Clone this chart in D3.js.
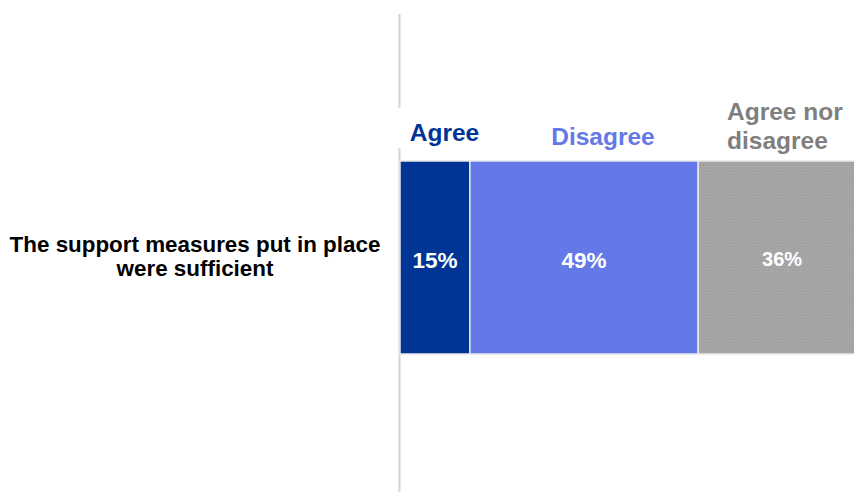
<!DOCTYPE html>
<html>
<head>
<meta charset="utf-8">
<script src="https://cdn.jsdelivr.net/npm/d3@7/dist/d3.min.js"></script>
<style>
  html, body { margin: 0; padding: 0; background: #ffffff; }
  svg { display: block; font-family: "Liberation Sans", Arial, sans-serif; }
</style>
</head>
<body>
<svg id="chart" width="854" height="492"></svg>
<script>
// Survey statement and response shares (%)
const categories = ["The support measures put in place were sufficient"];
const categoryLines = [["The support measures put in place", "were sufficient"]];
const seriesNames = ["Agree", "Disagree", "Agree nor disagree"];
const seriesLabelLines = [["Agree"], ["Disagree"], ["Agree nor", "disagree"]];
const seriesValues = [15, 49, 36];
const seriesColors = ["#003595", "#6478e8", "#a4a4a4"];
const labelColors = ["#003595", "#6478e8", "#7f7f7f"];

const svg = d3.select("#chart");

// Fine grain for the neutral segment
const defs = svg.append("defs");
const pat = defs.append("pattern")
  .attr("id", "grain").attr("width", 3).attr("height", 3)
  .attr("patternUnits", "userSpaceOnUse");
pat.append("rect").attr("width", 3).attr("height", 3).attr("fill", "#a5a5a5");
pat.append("rect").attr("x", 0).attr("y", 0).attr("width", 1).attr("height", 1).attr("fill", "#a0a0a0");
pat.append("rect").attr("x", 2).attr("y", 1).attr("width", 1).attr("height", 1).attr("fill", "#aaaaaa");
pat.append("rect").attr("x", 1).attr("y", 2).attr("width", 1).attr("height", 1).attr("fill", "#a1a1a1");

const x = d3.scaleLinear().domain([0, 100]).range([400, 866]);
const y = d3.scaleBand().domain(categories).range([161, 354]).padding(0);

// Stack the shares
const stacked = [];
let acc = 0;
seriesValues.forEach((v, i) => {
  stacked.push({ name: seriesNames[i], v, x0: acc, x1: acc + v, i });
  acc += v;
});

// Vertical axis line
svg.append("line")
  .attr("x1", 399.5).attr("x2", 399.5)
  .attr("y1", 14).attr("y2", 492)
  .attr("stroke", "#d4d4d4").attr("stroke-width", 2);

// White box behind the first series label interrupts the axis line
svg.append("rect")
  .attr("x", 397).attr("y", 108).attr("width", 90).attr("height", 40)
  .attr("fill", "#ffffff");

// Bars
const cat = categories[0];
svg.append("g").selectAll("rect")
  .data(stacked)
  .join("rect")
  .attr("x", d => x(d.x0))
  .attr("y", y(cat))
  .attr("width", d => x(d.x1) - x(d.x0))
  .attr("height", y.bandwidth())
  .attr("fill", d => d.i === 2 ? "url(#grain)" : seriesColors[d.i])
  .attr("stroke", "#e8e8e8")
  .attr("stroke-width", 1.5);

// Value labels inside the bars
const valueSizes = [22.5, 22.5, 20];
svg.append("g").selectAll("text")
  .data(stacked)
  .join("text")
  .attr("x", d => (x(d.x0) + x(d.x1)) / 2)
  .attr("y", d => d.i === 2 ? 266 : 267.5)
  .attr("text-anchor", "middle")
  .attr("font-weight", "bold")
  .attr("font-size", d => valueSizes[d.i])
  .attr("fill", "#ffffff")
  .text(d => d.v + "%");

// Series labels above the bars
const headerPos = [
  { x: 444.5, y: 141, anchor: "middle" },
  { x: 603, y: 145, anchor: "middle" },
  { x: 727, y: 120, anchor: "start" }
];
seriesLabelLines.forEach((lines, i) => {
  const t = svg.append("text")
    .attr("x", headerPos[i].x)
    .attr("y", headerPos[i].y)
    .attr("text-anchor", headerPos[i].anchor)
    .attr("font-weight", "bold")
    .attr("font-size", 24.5)
    .attr("fill", labelColors[i]);
  lines.forEach((ln, k) => {
    t.append("tspan")
      .attr("x", headerPos[i].x)
      .attr("dy", k === 0 ? 0 : 29)
      .text(ln);
  });
});

// Category label
const catText = svg.append("text")
  .attr("x", 195)
  .attr("y", 252)
  .attr("text-anchor", "middle")
  .attr("font-weight", "bold")
  .attr("font-size", 22.4)
  .attr("fill", "#000000");
categoryLines[0].forEach((ln, k) => {
  catText.append("tspan").attr("x", 195).attr("dy", k === 0 ? 0 : 23.5).text(ln);
});
</script>
</body>
</html>
